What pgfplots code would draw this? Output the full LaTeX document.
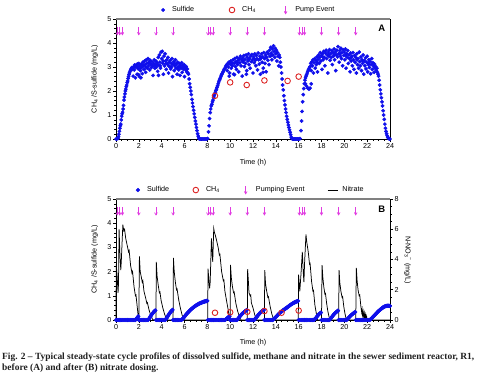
\documentclass[border=0pt]{standalone}
\usepackage{pgfplots}
\pgfplotsset{compat=1.18}
\usepackage{fontspec}
\setmainfont{Liberation Sans}
\newfontfamily\capfont{Liberation Serif}
\definecolor{sblue}{RGB}{15,15,235}
\definecolor{cred}{RGB}{220,35,35}
\definecolor{pmag}{RGB}{225,60,225}
\definecolor{bgray}{RGB}{128,128,128}

\pgfdeclareplotmark{pumparrow}{%
  \pgfpathmoveto{\pgfqpoint{0pt}{3.8pt}}\pgfpathlineto{\pgfqpoint{0pt}{-3.8pt}}\pgfusepathqstroke
  \pgfpathmoveto{\pgfqpoint{-1.4pt}{-1.4pt}}\pgfpathlineto{\pgfqpoint{0pt}{-3.8pt}}\pgfpathlineto{\pgfqpoint{1.4pt}{-1.4pt}}\pgfusepathqstroke}

\pgfplotsset{
  markimg/.style={legend image code/.code={\draw[##1] plot coordinates {(0bp,0bp)};}},
  lineimg/.style={legend image code/.code={\draw[##1] (0bp,0bp) -- (10bp,0bp);}},
  panel/.style={
    scale only axis, width=274bp, xmin=0, xmax=24, ymin=0, ymax=5,
    axis x line*=bottom, axis y line*=left,
    axis line style={-, black, line width=0.8bp},
    xtick={0,2,...,24}, minor x tick num=3, ytick={0,1,...,5}, minor y tick num=4,
    tick align=outside, major tick length=3bp, minor tick length=1.8bp,
    tick style={black, line width=0.6bp},
    /pgf/number format/assume math mode=true,
    tick label style={font=\fontsize{7.2}{8}\selectfont, inner sep=1.5bp},
    label style={font=\fontsize{7.2}{8}\selectfont},
    xlabel={Time (h)},
    ylabel={CH\textsubscript{4} /S-sulfide (mg/L)},
    ylabel style={at={(axis description cs:-0.052,0.5)}, anchor=south},
    clip=false,
    legend style={draw=none, fill=none, inner sep=0pt, outer sep=0pt,
      font=\fontsize{7.2}{8}\selectfont, legend columns=-1, nodes={inner sep=0pt},
      /tikz/every odd column/.append style={column sep=7.4bp}},
  },
  sulf/.style={only marks, mark=*, sblue, mark options={draw=sblue, fill=sblue}, markimg},
  meth/.style={only marks, mark=o, mark size=2.8bp, cred, mark options={line width=0.9bp}, markimg},
  pump/.style={only marks, mark=pumparrow, pmag, mark options={line width=0.7bp}, markimg},
}

\begin{document}
\begin{tikzpicture}
\useasboundingbox (0,0) rectangle (485bp,-380bp);

% ---------------- Panel A ----------------
\begin{axis}[panel, at={(116bp,-139bp)}, anchor=south west, height=120bp,
  xlabel style={at={(axis description cs:0.5,-0.2)}, anchor=center},
  legend style={at={(axis description cs:0.1657,1.075)}, anchor=west}]
\addplot[sulf, mark size=1.7bp] coordinates {
(0.00,0.00)(0.06,0.00)(0.12,0.02)(0.18,0.03)(0.22,0.10)(0.26,0.20)(0.30,0.32)(0.34,0.45)(0.38,0.55)(0.42,0.62)
(0.46,0.80)(0.50,0.95)(0.54,1.05)(0.58,1.12)(0.62,1.25)(0.66,1.40)(0.70,1.62)(0.74,1.75)(0.78,1.88)(0.82,2.00)
(0.86,2.08)(0.90,2.18)(0.94,2.25)(0.98,2.35)(1.02,2.42)(1.06,2.52)(1.10,2.60)(1.14,2.68)(1.18,2.75)(1.22,2.80)
(1.26,2.86)(1.30,2.90)(1.34,2.94)(1.38,2.98)(1.42,2.90)
(1.45,2.95)(1.50,2.62)(1.55,3.00)(1.60,2.88)(1.65,3.05)(1.70,2.55)(1.75,2.98)(1.80,3.10)(1.85,2.70)(1.90,3.02)
(1.95,2.92)(2.00,3.15)(2.05,2.60)(2.10,3.05)(2.15,2.85)(2.20,3.12)(2.25,2.98)(2.30,2.72)(2.35,3.20)(2.40,3.05)
(2.45,2.90)(2.50,3.25)(2.55,3.10)(2.60,2.78)(2.65,3.30)(2.70,3.15)(2.75,2.95)(2.80,3.35)(2.85,3.05)(2.90,3.18)
(2.95,2.88)(3.00,3.28)(3.05,3.12)(3.10,2.98)(3.15,3.22)(3.20,3.05)(3.25,2.65)(3.30,3.15)(3.35,3.30)(3.40,2.95)
(3.45,3.10)(3.50,3.25)(3.55,3.00)(3.60,3.18)(3.65,2.82)(3.70,3.40)(3.75,3.08)(3.80,3.50)(3.85,3.20)(3.90,2.95)
(3.95,3.62)(4.00,3.35)(4.05,3.65)(4.10,3.15)(4.15,2.70)(4.20,3.45)(4.25,3.05)(4.30,3.55)(4.35,3.25)(4.40,2.90)
(4.45,3.30)(4.50,3.12)(4.55,3.40)(4.60,2.75)(4.65,3.20)(4.70,3.02)(4.75,3.28)(4.80,2.92)(4.85,3.15)(4.90,3.35)
(4.95,2.60)(5.00,3.10)(5.05,3.22)(5.10,2.85)(5.15,3.05)(5.20,3.30)(5.25,2.95)(5.30,3.12)(5.35,2.70)(5.40,3.20)
(5.45,3.02)(5.50,2.88)(5.55,3.15)(5.60,2.65)(5.65,3.08)(5.70,2.95)(5.75,3.18)(5.80,2.78)(5.85,3.05)(5.90,2.92)
(5.95,3.10)(6.00,2.60)(6.05,3.00)(6.10,2.88)(6.15,3.02)(6.20,2.80)(6.25,2.92)(6.30,2.75)
(1.62,3.08)(1.88,3.12)(2.12,2.95)(2.38,3.08)(2.62,3.00)(2.88,3.20)(3.12,3.08)(3.38,3.02)(3.62,3.10)(3.88,3.05)
(4.12,3.25)(4.38,3.15)(4.62,3.05)(4.88,3.00)(5.12,3.15)(5.38,2.95)(5.62,3.00)(5.88,2.98)(6.12,2.95)(2.18,2.55)
(1.98,2.68)(3.72,2.65)
(6.35,2.70)(6.40,2.50)(6.45,2.30)(6.50,2.15)(6.55,2.00)(6.60,1.85)(6.65,1.65)(6.70,1.50)(6.75,1.35)(6.80,1.20)
(6.85,1.05)(6.90,0.90)(6.95,0.75)(7.00,0.62)(7.05,0.48)(7.10,0.35)(7.15,0.22)(7.20,0.12)(7.25,0.05)(7.30,0.00)
(7.38,0)(7.46,0)(7.54,0)(7.62,0)(7.70,0)(7.78,0)(7.86,0)(7.94,0)(8.02,0.02)
(8.10,0.30)(8.15,0.55)(8.20,0.85)(8.25,1.10)(8.30,1.25)(8.35,1.38)(8.40,1.45)(8.45,1.55)(8.50,1.62)(8.55,1.72)
(8.60,1.80)(8.65,1.88)(8.70,1.95)(8.75,2.02)(8.80,2.08)(8.85,2.15)(8.90,2.22)(8.95,2.30)(9.00,2.38)(9.05,2.45)
(9.10,2.50)(9.15,2.55)(9.20,2.62)(9.25,2.68)(9.30,2.72)(9.35,2.78)(9.40,2.82)(9.45,2.88)(9.50,2.92)(9.55,2.95)
(9.60,3.00)(9.65,3.05)
(9.70,3.10)(9.75,2.85)(9.80,3.15)(9.85,3.00)(9.90,3.20)(9.95,2.75)(10.00,3.12)(10.05,3.25)(10.10,2.95)(10.15,3.18)
(10.20,3.05)(10.25,3.30)(10.30,2.70)(10.35,3.15)(10.40,3.35)(10.45,3.02)(10.50,3.22)(10.55,2.90)(10.60,3.40)(10.65,3.10)
(10.70,3.28)(10.75,2.80)(10.80,3.35)(10.85,3.18)(10.90,3.45)(10.95,3.05)(11.00,3.30)(11.05,2.62)(11.10,3.38)(11.15,3.20)
(11.20,3.48)(11.25,3.02)(11.30,3.32)(11.35,3.15)(11.40,3.50)(11.45,2.85)(11.50,3.40)(11.55,3.25)(11.60,3.55)(11.65,3.10)
(11.70,3.35)(11.75,2.95)(11.80,3.45)(11.85,3.22)(11.90,3.52)(11.95,3.30)(12.00,2.75)(12.05,3.42)(12.10,3.18)(12.15,3.55)
(12.20,3.28)(12.25,3.05)(12.30,3.48)(12.35,3.35)(12.40,2.88)(12.45,3.58)(12.50,3.30)(12.55,3.12)(12.60,3.45)(12.65,2.70)
(12.70,3.38)(12.75,3.55)(12.80,3.20)(12.85,3.42)(12.90,2.95)(12.95,3.60)(13.00,3.35)(13.05,3.15)(13.10,3.50)(13.15,2.80)
(13.20,3.40)(13.25,3.62)(13.30,3.28)(13.35,3.55)(13.40,3.10)(13.45,3.70)(13.50,3.45)(13.55,3.82)(13.60,3.58)(13.65,3.30)
(13.70,3.75)(13.75,3.50)(13.80,3.88)(13.85,3.65)(13.90,3.40)(13.95,3.78)(14.00,3.55)(14.05,3.70)(14.10,3.25)(14.15,3.60)
(14.20,3.45)(14.25,3.05)(14.30,3.50)
(10.12,3.08)(10.62,3.18)(11.12,3.25)(11.62,3.30)(12.12,3.35)(12.62,3.32)(13.12,3.40)(13.62,3.48)(10.38,2.68)(11.42,2.70)
(12.88,2.78)(9.92,2.62)
(14.35,3.40)(14.40,3.20)(14.45,3.00)(14.50,2.75)(14.55,2.50)(14.60,2.25)(14.65,2.05)(14.70,1.80)(14.75,1.60)(14.80,1.42)
(14.85,1.25)(14.90,1.10)(14.95,0.95)(15.00,0.82)(15.05,0.70)(15.10,0.58)(15.15,0.48)(15.20,0.38)(15.25,0.28)(15.30,0.18)
(15.35,0.08)(15.40,0.02)(15.48,0)(15.56,0)(15.64,0)(15.72,0)(15.80,0)(15.88,0)(15.96,0)(16.04,0)(16.12,0.02)
(16.20,0.35)(16.25,0.75)(16.30,1.15)(16.35,1.55)(16.40,1.85)(16.45,2.10)(16.50,2.30)(16.55,2.45)(16.60,2.55)(16.65,2.62)
(16.70,2.68)(16.75,2.75)(16.80,2.82)(16.85,2.88)(16.90,2.92)(16.95,2.98)(17.00,3.02)
(16.60,2.30)(16.70,2.20)(16.80,2.12)(16.90,2.08)(17.00,2.12)(17.10,2.30)
(17.05,3.15)(17.10,2.85)(17.15,3.22)(17.20,3.05)(17.25,3.30)(17.30,2.75)(17.35,3.18)(17.40,3.35)(17.45,2.95)(17.50,3.28)
(17.55,3.10)(17.60,3.42)(17.65,2.80)(17.70,3.32)(17.75,3.50)(17.80,3.15)(17.85,3.40)(17.90,3.60)(17.95,3.25)(18.00,3.48)
(18.05,2.90)(18.10,3.55)(18.15,3.30)(18.20,3.65)(18.25,3.40)(18.30,3.05)(18.35,3.58)(18.40,3.70)(18.45,3.35)(18.50,3.50)
(18.55,2.75)(18.60,3.62)(18.65,3.45)(18.70,3.72)(18.75,3.28)(18.80,3.55)(18.85,3.40)(18.90,3.68)(18.95,3.10)(19.00,3.60)
(19.05,3.45)(19.10,3.75)(19.15,3.30)(19.20,3.62)(19.25,2.85)(19.30,3.50)(19.35,3.70)(19.40,3.42)(19.45,3.85)(19.50,3.55)
(19.55,3.20)(19.60,3.68)(19.65,3.45)(19.70,3.78)(19.75,3.35)(19.80,3.60)(19.85,3.05)(19.90,3.72)(19.95,3.48)(20.00,3.62)
(20.05,3.30)(20.10,3.75)(20.15,2.95)(20.20,3.55)(20.25,3.40)(20.30,3.68)(20.35,3.15)(20.40,3.50)(20.45,3.35)(20.50,2.80)
(20.55,3.58)(20.60,3.25)(20.65,3.45)(20.70,3.05)(20.75,3.60)(20.80,3.30)(20.85,2.90)(20.90,3.48)(20.95,3.20)(21.00,3.40)
(21.05,2.75)(21.10,3.55)(21.15,3.10)(21.20,3.35)(21.25,2.95)(21.30,3.62)(21.35,3.22)(21.40,3.05)(21.45,3.42)(21.50,2.85)
(21.55,3.30)(21.60,3.15)(21.65,3.50)(21.70,2.70)(21.75,3.25)(21.80,3.05)(21.85,3.38)(21.90,2.92)(21.95,3.20)(22.00,3.45)
(22.05,2.80)(22.10,3.15)(22.15,3.30)(22.20,2.98)(22.25,3.22)(22.30,2.72)(22.35,3.10)(22.40,3.35)(22.45,2.90)(22.50,3.18)
(22.55,3.05)(22.60,2.78)(22.65,3.12)(22.70,2.95)(22.75,3.02)(22.80,2.85)(22.85,2.95)
(17.62,3.20)(18.12,3.42)(18.62,3.50)(19.12,3.52)(19.62,3.55)(20.12,3.48)(20.62,3.40)(21.12,3.30)(21.62,3.25)(22.12,3.10)
(22.62,3.00)
(22.90,2.78)(22.95,2.70)(23.00,2.62)(23.05,2.45)(23.10,2.25)(23.15,2.05)(23.20,1.88)(23.25,1.72)(23.30,1.55)(23.35,1.38)
(23.40,1.18)(23.45,1.00)(23.50,0.82)(23.55,0.62)(23.60,0.45)(23.65,0.32)(23.70,0.22)(23.75,0.14)(23.80,0.08)(23.85,0.04)
(23.90,0.02)(23.95,0.00)(24.00,0.00)
};
\addlegendentry{\makebox[57bp][l]{Sulfide}}
\addplot[meth] coordinates {(8.67,1.80)(10.0,2.36)(11.45,2.25)(13.0,2.44)(15.03,2.42)(16.0,2.60)};
\addlegendentry{\makebox[42bp][l]{CH\textsubscript{4}}}
\addplot[pump] coordinates {(0.1,4.5)(0.33,4.5)(0.56,4.5)(2,4.5)(3.5,4.5)(5,4.5)(8.05,4.5)(8.28,4.5)(8.51,4.5)(10,4.5)(11.5,4.5)(13,4.5)(16.05,4.5)(16.28,4.5)(16.51,4.5)(18,4.5)(19.5,4.5)(21,4.5)};
\addlegendentry{\hspace*{1bp}Pump Event}
\draw[bgray, line width=1.6bp] (rel axis cs:0,1) -- (rel axis cs:1,1);
\draw[black, line width=0.7bp] (rel axis cs:1,0) -- (rel axis cs:1,1);
\node[font=\bfseries\fontsize{9.5}{10}\selectfont] at (axis description cs:0.97,0.925) {A};
\end{axis}

% ---------------- Panel B : nitrate (right axis) ----------------
\begin{axis}[scale only axis, width=274bp, height=121bp, at={(116bp,-320bp)}, anchor=south west,
  xmin=0, xmax=24, ymin=0, ymax=8, axis x line=none, axis y line*=right,
  axis line style={-, black, line width=0.8bp},
  ytick={0,2,...,8}, minor y tick num=3, tick align=outside, major tick length=3bp, minor tick length=1.8bp,
  tick style={black, line width=0.6bp},
  /pgf/number format/assume math mode=true,
  tick label style={font=\fontsize{7.2}{8}\selectfont, inner sep=1.5bp},
  ylabel={N-NO\textsubscript{3}\textsuperscript{−} (mg/L)},
  ylabel style={font=\fontsize{7.2}{8}\selectfont, at={(axis description cs:1.064,0.496)}, anchor=center, rotate=180},
  clip=false]
\addplot[black, line width=0.75bp] coordinates {
(0,0)(0.02,3.7)(0.1,2.9)(0.18,1.8)(0.22,2.4)(0.27,6.0)(0.35,4.2)(0.42,3.3)(0.47,4.0)(0.6,6.3)(0.68,5.9)(0.75,6.0)
(0.85,5.4)(0.99,4.9)(1.1,4.5)(1.15,4.6)(1.28,3.6)(1.4,3.1)(1.45,3.2)(1.58,2.2)(1.7,1.6)(1.75,1.65)(1.87,0.8)(1.95,0.2)
(2.0,0)(2.05,4.2)(2.12,3.2)(2.2,2.9)(2.3,2.5)(2.35,2.6)(2.45,1.9)(2.6,1.45)(2.7,1.1)(2.75,1.15)(2.9,0.65)(3.05,0.3)
(3.2,0.05)(3.3,0)(3.5,0)(3.53,3.85)(3.6,2.9)(3.7,2.3)(3.8,1.8)(3.85,1.85)(3.95,1.3)(4.1,0.8)(4.25,0.4)(4.4,0.1)(4.5,0)
(5.0,0)(5.03,4.1)(5.1,3.2)(5.2,2.5)(5.3,2.0)(5.35,2.05)(5.5,1.3)(5.65,0.75)(5.8,0.3)(5.92,0.05)(6.0,0)
(8.03,0)(8.06,3.4)(8.14,2.6)(8.2,2.1)(8.25,2.5)(8.36,5.4)(8.42,4.5)(8.47,3.85)(8.5,4.5)(8.56,6.05)(8.62,5.8)(8.7,5.6)
(8.8,5.3)(8.96,4.75)(9.05,4.3)(9.1,4.35)(9.25,3.2)(9.4,2.6)(9.45,2.65)(9.54,1.9)(9.7,1.2)(9.83,0.66)(9.95,0.05)
(10.0,0)(10.03,3.65)(10.1,2.8)(10.2,2.2)(10.3,1.8)(10.35,1.85)(10.5,1.1)(10.65,0.6)(10.8,0.25)(10.95,0)
(11.5,0)(11.53,3.36)(11.6,2.5)(11.65,1.8)(11.75,1.6)(11.8,1.65)(11.86,1.13)(12.0,0.8)(12.15,0.35)(12.3,0.05)(12.35,0)
(13.0,0)(13.03,3.3)(13.1,2.4)(13.2,1.9)(13.3,1.5)(13.35,1.55)(13.5,0.9)(13.65,0.4)(13.8,0.05)(13.85,0)
(15.97,0)(15.99,3.0)(16.05,2.4)(16.1,1.9)(16.2,3.0)(16.32,4.5)(16.4,3.2)(16.46,2.5)(16.52,3.8)(16.64,5.66)(16.7,5.2)
(16.84,4.5)(16.95,3.7)(17.0,3.75)(17.13,2.55)(17.25,1.9)(17.3,1.95)(17.42,1.0)(17.57,0.33)(17.65,0)
(18.0,0)(18.05,3.63)(18.12,2.8)(18.2,2.2)(18.3,1.7)(18.35,1.75)(18.45,1.1)(18.55,0.6)(18.65,0.25)(18.75,0)
(19.5,0)(19.54,3.3)(19.6,2.5)(19.7,1.9)(19.8,1.5)(19.85,1.55)(19.95,0.9)(20.05,0.45)(20.15,0.1)(20.2,0)
(21.0,0)(21.05,3.45)(21.12,2.6)(21.2,2.0)(21.3,1.6)(21.35,1.65)(21.45,0.9)(21.52,0.5)(21.56,0.7)(21.6,0.3)(21.65,0.55)
(21.7,0.15)(21.75,0.45)(21.8,0.1)(21.85,0.35)(21.9,0.05)(21.95,0.25)(22.0,0)(24,0)
};
\end{axis}

% ---------------- Panel B : sulfide, CH4, pumps ----------------
\begin{axis}[panel, at={(116bp,-320bp)}, anchor=south west, height=121bp,
  xlabel style={at={(axis description cs:0.5,-0.19)}, anchor=center},
  legend style={at={(axis description cs:0.0730,1.074)}, anchor=west}]
\addplot[sulf, mark size=1.9bp] coordinates {
(0.0,0)(0.1,0)(0.2,0)(0.3,0)(0.4,0)(0.5,0)(0.6,0)(0.7,0)(0.8,0)(0.9,0)(1.0,0)(1.1,0)(1.2,0)(1.3,0)(1.4,0)(1.5,0)(1.6,0)(1.7,0)
(1.75,0.03)(1.80,0.06)(1.85,0.09)(1.90,0.12)(1.95,0.15)
(2.0,0)(2.1,0)(2.2,0)(2.3,0)(2.4,0)(2.5,0)(2.6,0)(2.7,0)(2.8,0)
(2.85,0.02)(2.90,0.05)(2.95,0.09)(3.00,0.13)(3.05,0.17)(3.10,0.21)(3.15,0.24)(3.20,0.27)(3.25,0.30)(3.30,0.33)(3.35,0.36)(3.40,0.38)(3.45,0.40)
(3.5,0)(3.6,0)(3.7,0)(3.8,0)(3.9,0)(4.0,0)(4.1,0)(4.2,0)(4.3,0)
(4.35,0.02)(4.40,0.05)(4.45,0.09)(4.50,0.13)(4.55,0.17)(4.60,0.21)(4.65,0.24)(4.70,0.28)(4.75,0.31)(4.80,0.34)(4.85,0.37)(4.90,0.39)(4.95,0.42)
(5.0,0)(5.1,0)(5.2,0)(5.3,0)(5.4,0)(5.5,0)(5.6,0)(5.7,0)
(5.75,0.01)(5.80,0.03)(5.85,0.05)(5.90,0.08)(5.95,0.11)(6.00,0.14)(6.05,0.17)(6.10,0.20)(6.15,0.23)(6.20,0.26)(6.25,0.28)(6.30,0.31)
(6.35,0.33)(6.40,0.36)(6.45,0.38)(6.50,0.41)(6.55,0.43)(6.60,0.45)(6.65,0.47)(6.70,0.49)(6.75,0.51)(6.80,0.53)(6.85,0.55)(6.90,0.56)
(6.95,0.58)(7.00,0.60)(7.05,0.61)(7.10,0.63)(7.15,0.64)(7.20,0.65)(7.25,0.67)(7.30,0.68)(7.35,0.69)(7.40,0.70)(7.45,0.71)(7.50,0.72)
(7.55,0.73)(7.60,0.74)(7.65,0.75)(7.70,0.76)(7.75,0.76)(7.80,0.77)(7.85,0.78)(7.90,0.78)(7.95,0.79)(8.00,0.79)
(8.05,0)(8.15,0)(8.25,0)(8.35,0)(8.45,0)(8.55,0)(8.65,0)(8.75,0)(8.85,0)(8.95,0)(9.05,0)(9.15,0)(9.25,0)(9.35,0)(9.45,0)(9.55,0)
(9.60,0.02)(9.65,0.04)(9.70,0.06)(9.75,0.08)(9.80,0.10)(9.85,0.12)(9.90,0.14)(9.95,0.16)
(10.0,0)(10.1,0)(10.2,0)(10.3,0)(10.4,0)(10.5,0)(10.6,0)
(10.65,0.03)(10.70,0.06)(10.75,0.09)(10.80,0.12)(10.85,0.15)(10.90,0.18)(10.95,0.20)(11.00,0.23)(11.05,0.26)(11.10,0.28)(11.15,0.30)
(11.20,0.32)(11.25,0.34)(11.30,0.36)(11.35,0.38)(11.40,0.39)(11.45,0.41)
(11.5,0)(11.6,0)(11.7,0)(11.8,0)(11.9,0)(12.0,0)(12.1,0)
(12.15,0.02)(12.20,0.05)(12.25,0.08)(12.30,0.11)(12.35,0.14)(12.40,0.17)(12.45,0.20)(12.50,0.23)(12.55,0.26)(12.60,0.28)(12.65,0.31)
(12.70,0.33)(12.75,0.35)(12.80,0.37)(12.85,0.39)(12.90,0.40)(12.95,0.42)
(13.0,0)(13.1,0)(13.2,0)(13.3,0)(13.4,0)(13.5,0)(13.6,0)(13.7,0)
(13.75,0.01)(13.80,0.03)(13.85,0.05)(13.90,0.08)(13.95,0.10)(14.00,0.12)(14.05,0.15)(14.10,0.17)(14.15,0.20)(14.20,0.22)(14.25,0.25)
(14.30,0.27)(14.35,0.29)(14.40,0.31)(14.45,0.33)(14.50,0.35)(14.55,0.37)(14.60,0.39)(14.65,0.41)(14.70,0.42)(14.75,0.44)(14.80,0.46)
(14.85,0.47)(14.90,0.49)(14.95,0.51)(15.00,0.52)(15.05,0.54)(15.10,0.56)(15.15,0.58)(15.20,0.60)(15.25,0.61)(15.30,0.63)(15.35,0.65)
(15.40,0.66)(15.45,0.68)(15.50,0.69)(15.55,0.70)(15.60,0.72)(15.65,0.73)(15.70,0.74)(15.75,0.75)(15.80,0.76)(15.85,0.77)(15.90,0.78)(15.95,0.79)
(16.0,0)(16.1,0)(16.2,0)(16.3,0)(16.4,0)(16.5,0)(16.6,0)(16.7,0)(16.8,0)(16.9,0)(17.0,0)(17.1,0)(17.2,0)(17.3,0)
(17.35,0.01)(17.40,0.03)(17.45,0.05)(17.50,0.08)(17.55,0.11)(17.60,0.14)(17.65,0.17)(17.70,0.20)(17.75,0.23)(17.80,0.25)(17.85,0.27)(17.90,0.29)(17.95,0.31)
(18.0,0)(18.1,0)(18.2,0)(18.3,0)(18.4,0)(18.5,0)(18.6,0)(18.7,0)
(18.75,0.03)(18.80,0.06)(18.85,0.09)(18.90,0.12)(18.95,0.15)(19.00,0.18)(19.05,0.21)(19.10,0.24)(19.15,0.27)(19.20,0.29)(19.25,0.31)
(19.30,0.33)(19.35,0.35)(19.40,0.37)(19.45,0.39)
(19.5,0)(19.6,0)(19.7,0)(19.8,0)(19.9,0)(20.0,0)(20.1,0)(20.2,0)
(20.25,0.03)(20.30,0.05)(20.35,0.08)(20.40,0.10)(20.45,0.13)(20.50,0.15)(20.55,0.18)(20.60,0.20)(20.65,0.22)(20.70,0.24)(20.75,0.26)
(20.80,0.28)(20.85,0.30)(20.90,0.31)(20.95,0.33)
(21.0,0)(21.1,0)(21.2,0)(21.3,0)(21.4,0)(21.5,0)(21.6,0)(21.7,0)(21.8,0)(21.9,0)(22.0,0)(22.1,0)(22.2,0)
(22.25,0.01)(22.30,0.03)(22.35,0.05)(22.40,0.07)(22.45,0.10)(22.50,0.12)(22.55,0.15)(22.60,0.17)(22.65,0.20)(22.70,0.22)(22.75,0.25)
(22.80,0.27)(22.85,0.30)(22.90,0.32)(22.95,0.35)(23.00,0.37)(23.05,0.39)(23.10,0.41)(23.15,0.43)(23.20,0.45)(23.25,0.47)(23.30,0.49)
(23.35,0.51)(23.40,0.52)(23.45,0.54)(23.50,0.55)(23.55,0.56)(23.60,0.57)(23.65,0.58)(23.70,0.58)(23.75,0.59)(23.80,0.59)(23.85,0.59)
(23.90,0.59)(23.95,0.58)(24.00,0.58)
};
\addlegendentry{\makebox[45.8bp][l]{Sulfide}}
\addplot[meth] coordinates {(8.67,0.30)(10.0,0.32)(11.5,0.34)(13.0,0.37)(14.5,0.30)(16.0,0.39)};
\addlegendentry{\makebox[38.3bp][l]{CH\textsubscript{4}}}
\addplot[pump] coordinates {(0.1,4.5)(0.33,4.5)(0.56,4.5)(2,4.5)(3.5,4.5)(5,4.5)(8.05,4.5)(8.28,4.5)(8.51,4.5)(10,4.5)(11.5,4.5)(13,4.5)(16.05,4.5)(16.28,4.5)(16.51,4.5)(18,4.5)(19.5,4.5)(21,4.5)};
\addlegendentry{\hspace*{1.5bp}\makebox[71.3bp][l]{Pumping Event}}
\addlegendimage{black, line width=0.75bp, lineimg}
\addlegendentry{\hspace*{-3bp}Nitrate}
\draw[bgray, line width=1.6bp] (rel axis cs:0,1) -- (rel axis cs:1,1);
\node[font=\bfseries\fontsize{9.5}{10}\selectfont] at (axis description cs:0.97,0.917) {B};
\end{axis}

% ---------------- Caption ----------------
\node[anchor=base west, inner sep=0pt, font=\capfont\bfseries\fontsize{9.5}{11}\selectfont, text=black!88] at (2bp,-359bp)
  {Fig. 2 – Typical steady-state cycle profiles of dissolved sulfide, methane and nitrate in the sewer sediment reactor, R1,};
\node[anchor=base west, inner sep=0pt, font=\capfont\bfseries\fontsize{9.5}{11}\selectfont, text=black!88] at (2bp,-370.5bp)
  {before (A) and after (B) nitrate dosing.};
\end{tikzpicture}
\end{document}
